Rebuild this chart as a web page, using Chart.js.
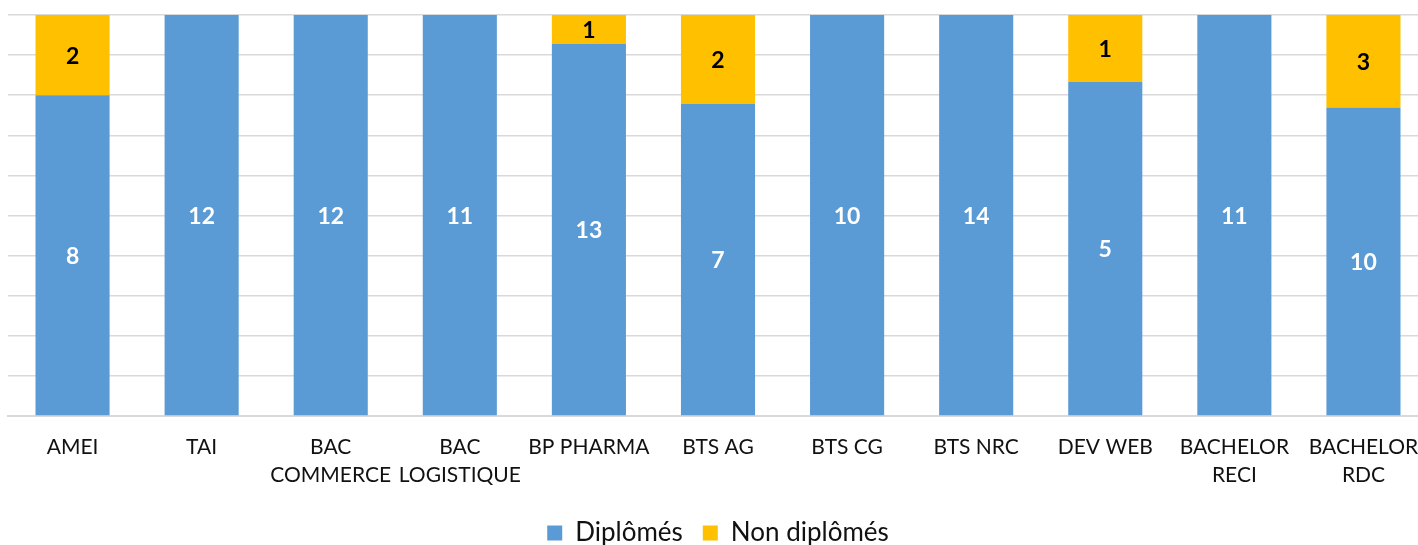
<!DOCTYPE html>
<html>
<head>
<meta charset="utf-8">
<script src="https://cdn.jsdelivr.net/npm/chart.js@4.4.1/dist/chart.umd.min.js"></script>
<style>
  html, body { margin: 0; padding: 0; background: #fff; overflow: hidden; }
  #wrap { width: 1428px; height: 557px; position: relative; }
</style>
</head>
<body>
<div id="wrap"><canvas id="chart"></canvas></div>
<script>
const categories = [
    'AMEI', 'TAI', ['BAC', 'COMMERCE'], ['BAC', 'LOGISTIQUE'], 'BP PHARMA', 'BTS AG',
    'BTS CG', 'BTS NRC', 'DEV WEB', ['BACHELOR', 'RECI'], ['BACHELOR', 'RDC']
];
const diplomes = [8, 12, 12, 11, 13, 7, 10, 14, 5, 11, 10];
const nonDiplomes = [2, 0, 0, 0, 1, 2, 0, 0, 1, 0, 3];

const colors = {
    diplomes: '#5B9BD5',
    nonDiplomes: '#FFC000',
    grid: '#D9D9D9'
};

// Barres empilées à 100 % : on convertit les effectifs en parts
const totals = diplomes.map((d, i) => d + nonDiplomes[i]);
const pctDiplomes = diplomes.map((d, i) => d / totals[i] * 100);
const pctNon = nonDiplomes.map((d, i) => d / totals[i] * 100);

// Étiquettes de valeurs au centre de chaque segment
const valueLabels = {
    id: 'valueLabels',
    afterDatasetsDraw(chart) {
        const ctx = chart.ctx;
        ctx.save();
        ctx.font = 'bold 23px Lato';
        ctx.textAlign = 'center';
        ctx.textBaseline = 'middle';
        chart.data.datasets.forEach((ds, di) => {
            const meta = chart.getDatasetMeta(di);
            meta.data.forEach((bar, i) => {
                const count = ds.counts[i];
                if (!count) return;
                ctx.fillStyle = ds.labelColor;
                ctx.fillText(count, bar.x, (bar.y + bar.base) / 2 + 1);
            });
        });
        ctx.restore();
    }
};

const ctx = document.getElementById('chart').getContext('2d');
const chart = new Chart(ctx, {
    type: 'bar',
    data: {
        labels: categories,
        datasets: [
            {
                label: 'Diplômés',
                data: pctDiplomes,
                counts: diplomes,
                labelColor: '#fff',
                backgroundColor: colors.diplomes,
                barPercentage: 0.574,
                categoryPercentage: 1
            },
            {
                label: 'Non diplômés',
                data: pctNon,
                counts: nonDiplomes,
                labelColor: '#000',
                backgroundColor: colors.nonDiplomes,
                barPercentage: 0.574,
                categoryPercentage: 1
            }
        ]
    },
    options: {
        responsive: true,
        maintainAspectRatio: false,
        animation: false,
        layout: {
            padding: { left: 8, top: 15, right: 0, bottom: 1 }
        },
        scales: {
            x: {
                stacked: true,
                grid: { display: false },
                border: { color: colors.grid, width: 2 },
                ticks: {
                    color: '#111',
                    font: { family: 'Lato', size: 21, lineHeight: 1.33 },
                    padding: 9,
                    maxRotation: 0,
                    autoSkip: false
                },
                afterFit(scale) { scale.height = 84; }
            },
            y: {
                stacked: true,
                min: 0,
                max: 100,
                ticks: { display: false, stepSize: 10 },
                grid: { color: colors.grid, lineWidth: 1.5, drawTicks: false },
                border: { display: false }
            }
        },
        plugins: {
            tooltip: { enabled: false },
            legend: {
                display: true,
                position: 'bottom',
                labels: {
                    color: '#111',
                    font: { family: 'Lato', size: 26, lineHeight: 1 },
                    boxWidth: 15,
                    boxHeight: 15,
                    padding: 20
                }
            }
        }
    },
    plugins: [valueLabels]
});
</script>
</body>
</html>
